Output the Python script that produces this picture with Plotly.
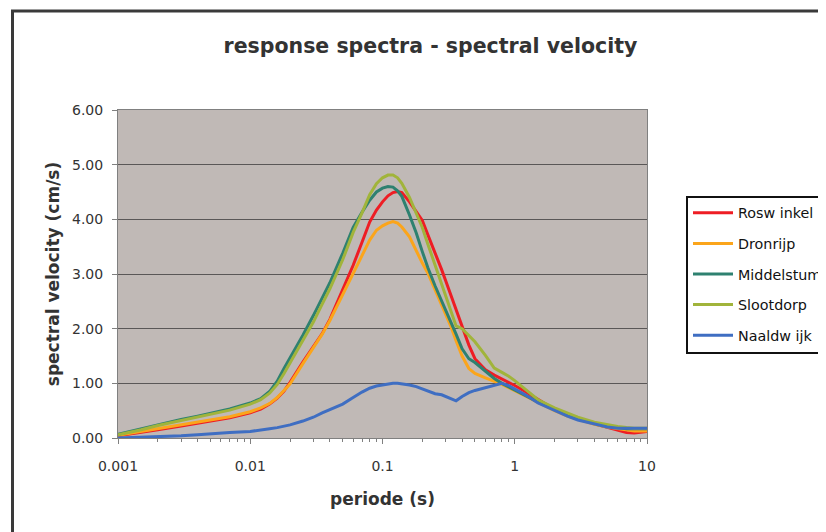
import plotly.graph_objects as go

# ---------------- data ----------------
periods = [0.001, 0.0015, 0.002, 0.003, 0.004, 0.005, 0.007, 0.01, 0.012, 0.014,
           0.016, 0.018, 0.02, 0.025, 0.03, 0.035, 0.04, 0.05, 0.06, 0.07,
           0.08, 0.09, 0.1, 0.11, 0.12, 0.13, 0.14, 0.16, 0.18, 0.2,
           0.22, 0.25, 0.28, 0.3, 0.33, 0.36, 0.4, 0.45, 0.5, 0.6,
           0.7, 0.8, 0.9, 1.0, 1.2, 1.5, 2, 2.5, 3, 4,
           5, 6, 7, 8, 10]

roswinkel = [0.04, 0.10, 0.15, 0.22, 0.27, 0.31, 0.37, 0.46, 0.53, 0.62,
             0.73, 0.86, 1.02, 1.39, 1.67, 1.91, 2.17, 2.70, 3.16, 3.58,
             3.95, 4.17, 4.32, 4.43, 4.49, 4.51, 4.49, 4.32, 4.14, 3.98,
             3.72, 3.39, 3.08, 2.88, 2.61, 2.36, 2.05, 1.70, 1.45, 1.25,
             1.15, 1.08, 1.02, 0.96, 0.85, 0.70, 0.52, 0.42, 0.35, 0.26,
             0.20, 0.15, 0.10, 0.09, 0.12]

dronrijp = [0.05, 0.12, 0.17, 0.24, 0.29, 0.33, 0.39, 0.48, 0.55, 0.63,
            0.74, 0.87, 0.99, 1.36, 1.65, 1.90, 2.15, 2.62, 3.02, 3.34,
            3.62, 3.80, 3.88, 3.93, 3.96, 3.93, 3.86, 3.68, 3.42, 3.20,
            3.02, 2.71, 2.43, 2.26, 2.03, 1.78, 1.50, 1.27, 1.18, 1.10,
            1.04, 0.98, 0.92, 0.87, 0.77, 0.65, 0.50, 0.40, 0.34, 0.25,
            0.20, 0.17, 0.14, 0.13, 0.13]

middelstum = [0.07, 0.17, 0.25, 0.34, 0.40, 0.45, 0.53, 0.64, 0.72, 0.85,
              1.04, 1.27, 1.46, 1.88, 2.24, 2.56, 2.84, 3.38, 3.85, 4.13,
              4.35, 4.50, 4.57, 4.60, 4.59, 4.52, 4.42, 4.08, 3.75, 3.41,
              3.12, 2.78, 2.51, 2.35, 2.12, 1.90, 1.63, 1.45, 1.38, 1.22,
              1.09, 1.00, 0.94, 0.88, 0.78, 0.66, 0.52, 0.43, 0.36, 0.27,
              0.22, 0.19, 0.17, 0.17, 0.17]

slootdorp = [0.06, 0.15, 0.23, 0.32, 0.38, 0.43, 0.51, 0.62, 0.70, 0.82,
             0.98, 1.18, 1.37, 1.78, 2.12, 2.45, 2.73, 3.26, 3.76, 4.12,
             4.45, 4.65, 4.76, 4.81, 4.81, 4.76, 4.66, 4.40, 4.12, 3.85,
             3.55, 3.16, 2.81, 2.59, 2.29, 2.05, 2.00, 1.87, 1.76, 1.51,
             1.28, 1.20, 1.13, 1.05, 0.90, 0.70, 0.55, 0.45, 0.38, 0.29,
             0.24, 0.21, 0.19, 0.18, 0.18]

naaldwijk = [0.00, 0.01, 0.02, 0.04, 0.06, 0.08, 0.10, 0.12, 0.14, 0.17,
             0.19, 0.21, 0.24, 0.31, 0.38, 0.46, 0.52, 0.62, 0.74, 0.84,
             0.91, 0.95, 0.97, 0.99, 1.00, 1.00, 0.99, 0.97, 0.94, 0.90,
             0.85, 0.81, 0.79, 0.76, 0.72, 0.68, 0.76, 0.83, 0.87, 0.92,
             0.97, 1.00, 0.96, 0.90, 0.79, 0.64, 0.50, 0.40, 0.33, 0.25,
             0.20, 0.18, 0.18, 0.18, 0.18]

series_names = ["Rosw inkel", "Dronrijp", "Middelstum", "Slootdorp", "Naaldw ijk"]
series_values = [roswinkel, dronrijp, middelstum, slootdorp, naaldwijk]
series_colors = ["#EE1D24", "#FBA51B", "#2E8170", "#A1B43B", "#3F6EC2"]

x_tickvals = [0.001, 0.01, 0.1, 1, 10]
x_ticktext = ["0.001", "0.01", "0.1", "1", "10"]
x_minor = [m * d for d in [0.001, 0.01, 0.1, 1] for m in range(2, 10)]
y_tickvals = [0, 1, 2, 3, 4, 5, 6]
y_ticktext = ["0.00", "1.00", "2.00", "3.00", "4.00", "5.00", "6.00"]

title_text = "response spectra - spectral velocity"
x_title = "periode (s)"
y_title = "spectral velocity (cm/s)"

# ---------------- figure ----------------
FONT = "DejaVu Sans"
TXT = "#333333"
OFF = 8                      # page body margin of the html page
W, H = 826 - OFF, 532 - OFF
PL, PR, PT, PB = 118, 647, 110, 438   # plot area in page pixels
ML, MR, MT, MB = PL - OFF, W - (PR - OFF), PT - OFF, H - (PB - OFF)
PW, PH = PR - PL, PB - PT


def px_x(p):
    return (p - PL) / PW


def px_y(p):
    return 1 - (p - PT) / PH


fig = go.Figure()
for i, (name, vals, col) in enumerate(zip(series_names, series_values, series_colors)):
    fig.add_trace(go.Scatter(
        x=periods, y=vals, mode="lines", name=name,
        line=dict(color=col, width=3), legendgroup=f"g{i}",
    ))

fig.update_layout(
    width=W, height=H,
    margin=dict(l=ML, r=MR, t=MT, b=MB, pad=0, autoexpand=False),
    paper_bgcolor="white",
    plot_bgcolor="#C0B9B6",
    title=dict(text=title_text, x=(430.5 - OFF) / W, xref="container", xanchor="center",
               y=1 - (46 - OFF) / H, yref="container", yanchor="middle",
               font=dict(family=FONT, size=20.5, color=TXT, weight="bold")),
    showlegend=True,
    legend=dict(x=px_x(688), y=px_y(197), xref="paper", yref="paper",
                xanchor="left", yanchor="top",
                bgcolor="rgba(0,0,0,0)", borderwidth=0,
                font=dict(family=FONT, size=14.3, color="#111111"),
                itemwidth=40, tracegroupgap=9),
    xaxis=dict(type="log", range=[-3, 1],
               tickvals=x_tickvals, ticktext=x_ticktext,
               ticks="outside", ticklen=5, tickcolor="#808080", tickwidth=1,
               showline=True, linecolor="#808080", linewidth=1, mirror=True,
               showgrid=False, zeroline=False,
               minor=dict(tickvals=x_minor, ticks="outside", ticklen=3,
                          tickcolor="#808080", showgrid=False),
               tickfont=dict(family=FONT, size=14, color=TXT),
               ticklabelstandoff=10,
               title=dict(text=x_title, standoff=20,
                          font=dict(family=FONT, size=17, color=TXT, weight="bold"))),
    yaxis=dict(range=[0, 6], tickvals=y_tickvals, ticktext=y_ticktext,
               ticks="outside", ticklen=5, tickcolor="#808080", tickwidth=1,
               showline=True, linecolor="#808080", linewidth=1, mirror=True,
               showgrid=True, gridcolor="#5A5757", gridwidth=1, zeroline=False,
               tickfont=dict(family=FONT, size=14, color=TXT),
               ticklabelstandoff=6,
               title=dict(text=y_title, standoff=8,
                          font=dict(family=FONT, size=17, color=TXT, weight="bold"))),
    shapes=[
        # outer chart frame
        dict(type="rect", xref="paper", yref="paper",
             x0=px_x(12.5), x1=px_x(900), y0=px_y(620), y1=px_y(11),
             line=dict(color="#3A3A3A", width=3), fillcolor="rgba(0,0,0,0)", layer="above"),
        # legend box
        dict(type="rect", xref="paper", yref="paper",
             x0=px_x(687), x1=px_x(900), y0=px_y(353), y1=px_y(197),
             line=dict(color="#111111", width=2), fillcolor="white", layer="below"),
    ],
)

fig.write_html("out.html")
